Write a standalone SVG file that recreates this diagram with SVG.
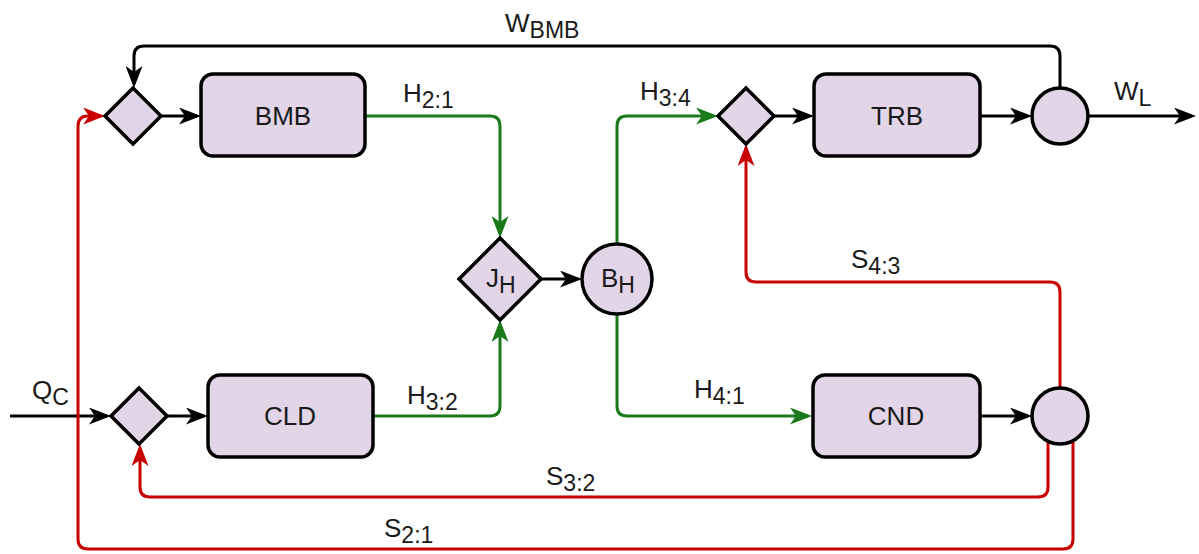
<svg xmlns="http://www.w3.org/2000/svg" width="1199" height="554" viewBox="0 0 1199 554">
<style>
.node{fill:#e1d5e7;stroke:#000;stroke-width:3.5}
.lbl{font-family:"Liberation Sans",Arial,sans-serif;font-size:26px;fill:#1a1a1a}
.sub{font-size:23px}
.c{fill:none;stroke-width:3}
.k{stroke:#000;marker-end:url(#ak)}
.g{stroke:#1a7a1a;marker-end:url(#ag)}
.r{stroke:#c80000;marker-end:url(#ar)}
</style>
<defs>
<marker id="ak" viewBox="0 0 22 17" refX="18" refY="8.5" markerWidth="22" markerHeight="17" markerUnits="userSpaceOnUse" orient="auto"><path d="M0,0 L22,8.5 L0,17 L6,8.5 z" fill="#000"/></marker>
<marker id="ag" viewBox="0 0 22 17" refX="18" refY="8.5" markerWidth="22" markerHeight="17" markerUnits="userSpaceOnUse" orient="auto"><path d="M0,0 L22,8.5 L0,17 L6,8.5 z" fill="#1a7a1a"/></marker>
<marker id="ar" viewBox="0 0 22 17" refX="18" refY="8.5" markerWidth="22" markerHeight="17" markerUnits="userSpaceOnUse" orient="auto"><path d="M0,0 L22,8.5 L0,17 L6,8.5 z" fill="#c80000"/></marker>
</defs>
<rect width="1199" height="554" fill="#fff"/>
<g id="connectors">
<path class="c k" d="M1060,88 V56 Q1060,46 1050,46 H144 Q134,46 134,56 V84"/>
<path class="c k" d="M161,116 H197"/>
<path class="c g" d="M365,116 H490 Q500,116 500,126 V234"/>
<path class="c k" d="M541,279 H578"/>
<path class="c g" d="M617,244 V126 Q617,116 627,116 H714"/>
<path class="c k" d="M774,116 H810"/>
<path class="c k" d="M980,116 H1028"/>
<path class="c k" d="M1088,116 H1192"/>
<path class="c k" d="M10,416 H107"/>
<path class="c k" d="M167,416 H204"/>
<path class="c g" d="M373,416 H490 Q500,416 500,406 V324"/>
<path class="c g" d="M617,314 V406 Q617,416 627,416 H808"/>
<path class="c k" d="M980,416 H1028"/>
<path class="c r" d="M1060,388 V292 Q1060,282 1050,282 H756 Q746,282 746,272 V148"/>
<path class="c r" d="M1048,441 V487 Q1048,497 1038,497 H150 Q140,497 140,487 V448"/>
<path class="c r" d="M1073,441 V539 Q1073,549 1063,549 H88 Q78,549 78,539 V126 Q78,116 88,116 H101"/>
</g>
<g id="labels" class="lbl">
<text x="505" y="32">W<tspan class="sub" dy="6">BMB</tspan></text>
<text x="403" y="102">H<tspan class="sub" dy="6">2:1</tspan></text>
<text x="640" y="100">H<tspan class="sub" dy="6">3:4</tspan></text>
<text x="1114" y="100">W<tspan class="sub" dy="6">L</tspan></text>
<text x="32" y="399">Q<tspan class="sub" dy="6">C</tspan></text>
<text x="407" y="404">H<tspan class="sub" dy="6">3:2</tspan></text>
<text x="694" y="398">H<tspan class="sub" dy="6">4:1</tspan></text>
<text x="851" y="268">S<tspan class="sub" dy="6">4:3</tspan></text>
<text x="546" y="485">S<tspan class="sub" dy="6">3:2</tspan></text>
<text x="384" y="537">S<tspan class="sub" dy="6">2:1</tspan></text>
</g>
<g id="mixBMB"><path class="node" d="M133,88 L161,116 L133,144 L105,116 Z"/></g>
<g id="BMB"><rect class="node" x="201" y="74" width="164" height="82" rx="12"/><text class="lbl" x="283" y="125" text-anchor="middle">BMB</text></g>
<g id="JH"><path class="node" d="M500,238 L541,279 L500,320 L459,279 Z"/><text class="lbl" x="486" y="287">J<tspan class="sub" dy="6">H</tspan></text></g>
<g id="BH"><circle class="node" cx="617" cy="279" r="35"/><text class="lbl" x="601" y="287">B<tspan class="sub" dy="6">H</tspan></text></g>
<g id="mixTRB"><path class="node" d="M746,88 L774,116 L746,144 L718,116 Z"/></g>
<g id="TRB"><rect class="node" x="814" y="74" width="166" height="82" rx="12"/><text class="lbl" x="897" y="125" text-anchor="middle">TRB</text></g>
<g id="splitW"><circle class="node" cx="1060" cy="116" r="28"/></g>
<g id="mixCLD"><path class="node" d="M139,388 L167,416 L139,444 L111,416 Z"/></g>
<g id="CLD"><rect class="node" x="208" y="375" width="165" height="82" rx="12"/><text class="lbl" x="290" y="425" text-anchor="middle">CLD</text></g>
<g id="CND"><rect class="node" x="813" y="375" width="167" height="82" rx="12"/><text class="lbl" x="896" y="425" text-anchor="middle">CND</text></g>
<g id="splitS"><circle class="node" cx="1060" cy="416" r="28"/></g>
</svg>
